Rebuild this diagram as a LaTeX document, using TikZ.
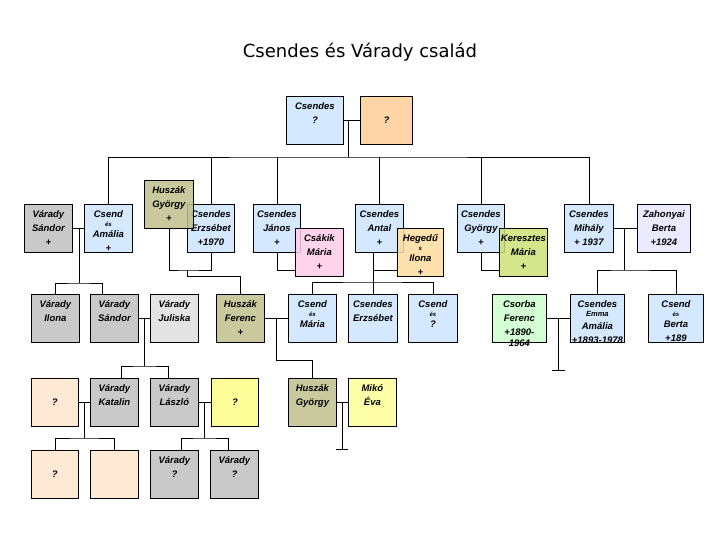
\documentclass[tikz,border=0pt]{standalone}
\usepackage{fontspec}
\setmainfont{Liberation Sans}
\newfontfamily\titlefont{DejaVu Sans}
\usepackage{tikz}
\usepackage{xcolor}
\usetikzlibrary{calc}

\definecolor{kek}{RGB}{204,228,255}
\definecolor{narancs}{RGB}{255,204,150}
\definecolor{szurke}{RGB}{192,192,192}
\definecolor{vszurke}{RGB}{222,222,222}
\definecolor{oliva}{RGB}{192,192,140}
\definecolor{rozsa}{RGB}{255,204,232}
\definecolor{barack}{RGB}{255,220,160}
\definecolor{zoldes}{RGB}{204,224,120}
\definecolor{lila}{RGB}{230,230,255}
\definecolor{menta}{RGB}{204,255,204}
\definecolor{halvany}{RGB}{255,228,204}
\definecolor{sarga}{RGB}{255,255,136}
\definecolor{vsarga}{RGB}{255,255,153}

% box text: top aligned, lines 14pt apart
\newcommand{\nevtext}[2][48pt]{\parbox[c][48pt][t]{#1}{\centering\vspace*{3.5pt}\strut#2}}
\newcommand{\kis}{\fontsize{6}{6}\selectfont}
\newcommand{\kozep}{\fontsize{7.5}{8}\selectfont}

\begin{document}
\begin{tikzpicture}[x=1pt,y=-1pt,
  every node/.style={font=\fontsize{9.5}{14}\selectfont\bfseries\itshape},
  person/.style={draw,line width=0.8pt,inner sep=0pt,anchor=north west,
    fill opacity=0.85,text opacity=1},
  vonal/.style={line width=0.8pt}]
\useasboundingbox (0,0) rectangle (720,540);

\node[font=\titlefont\fontsize{18}{20}\selectfont] (cim) at (360,52) {Csendes és Várady család};

% top couple
\node[person,fill=kek] (csq) at (286,96) {\nevtext[57pt]{Csendes\\?}};
\node[person,fill=narancs] (q0) at (360,96) {\nevtext[52pt]{\\?}};

% second row
\node[person,fill=szurke] (vsandor) at (24,204) {\nevtext{Várady\\Sándor\\+}};
\node[person,fill=kek] (amalia) at (84,204) {\nevtext{Csend\\[-5pt]{\kis és}\\[-3pt]Amália\\+}};
\node[person,fill=kek] (erzsebet) at (187,204) {\nevtext[47pt]{Csendes\\Erzsébet\\+1970}};
\node[person,fill=oliva] (huszakgy) at (144,180) {\nevtext[49pt]{Huszák\\György\\+}};
\node[person,fill=kek] (janos) at (253,204) {\nevtext[47pt]{Csendes\\János\\+}};
\node[person,fill=rozsa] (csakik) at (295,228) {\nevtext{Csákik\\Mária\\+}};
\node[person,fill=kek] (antal) at (355,204) {\nevtext{Csendes\\Antal\\+}};
\node[person,fill=barack] (hegedus) at (397,228) {\nevtext[46pt]{Hegedű\\[-5pt]{\kis s}\\[-3pt]Ilona\\+}};
\node[person,fill=kek] (gyorgy) at (457,204) {\nevtext[47pt]{Csendes\\György\\+}};
\node[person,fill=zoldes] (keresztes) at (499,228) {\nevtext{Keresztes\\Mária\\+}};
\node[person,fill=kek] (mihaly) at (564,204) {\nevtext[49pt]{Csendes\\Mihály\\+ 1937}};
\node[person,fill=lila] (zahonyai) at (637,204) {\nevtext[53pt]{Zahonyai\\Berta\\+1924}};

% third row
\node[person,fill=szurke] (ilona) at (31,294) {\nevtext{Várady\\Ilona}};
\node[person,fill=szurke] (sandor2) at (90,294) {\nevtext{Várady\\Sándor}};
\node[person,fill=vszurke] (juliska) at (150,294) {\nevtext{Várady\\Juliska}};
\node[person,fill=oliva] (ferenc) at (216,294) {\nevtext{Huszák\\Ferenc\\+}};
\node[person,fill=kek] (maria) at (288,294) {\nevtext{Csend\\[-5pt]{\kis és}\\[-3pt]Mária}};
\node[person,fill=kek] (erzsebet2) at (348,294) {\nevtext[49pt]{Csendes\\Erzsébet}};
\node[person,fill=kek] (csendq) at (408,294) {\nevtext[49pt]{Csend\\[-5pt]{\kis és}\\[-3pt]?}};
\node[person,fill=menta] (csorba) at (492,294) {\nevtext[54pt]{Csorba\\Ferenc\\+1890-\\[-3pt]1964}};
\node[person,fill=kek] (emma) at (570,294) {\nevtext[54pt]{Csendes\\[-5pt]{\kozep Emma}\\[-1pt]Amália\\+1893-1978}};
\node[person,fill=kek] (berta) at (648,294) {\nevtext[55pt]{Csend\\[-5pt]{\kis és}\\[-3pt]Berta\\+189}};

% fourth row
\node[person,fill=halvany] (q1) at (31,378) {\nevtext[47pt]{\\?}};
\node[person,fill=szurke] (katalin) at (90,378) {\nevtext{Várady\\Katalin}};
\node[person,fill=szurke] (laszlo) at (150,378) {\nevtext{Várady\\László}};
\node[person,fill=sarga] (q2) at (211,378) {\nevtext[47pt]{\\?}};
\node[person,fill=oliva] (huszakgy2) at (288,378) {\nevtext{Huszák\\György}};
\node[person,fill=vsarga] (miko) at (348,378) {\nevtext{Mikó\\Éva}};

% fifth row
\node[person,fill=halvany] (q3) at (31,450) {\nevtext[47pt]{\\?}};
\node[person,fill=halvany] (ures) at (90,450) {\nevtext{}};
\node[person,fill=szurke] (vq1) at (150,450) {\nevtext{Várady\\?}};
\node[person,fill=szurke] (vq2) at (210,450) {\nevtext{Várady\\?}};

% connectors
\coordinate (gy0) at (348,157);
\draw[vonal] (csq.east) -- (q0.west);
\draw[vonal] (gy0 |- csq.east) -- (gy0);
\draw[vonal] (amalia.north) |- (gy0) -| (mihaly.north);
\foreach \n in {erzsebet,janos,antal,gyorgy}
  \draw[vonal] (\n.north) -- (\n.north |- gy0);

\coordinate (gy1) at (79,283);
\draw[vonal] (vsandor.east) -- (amalia.west);
\draw[vonal] (gy1 |- vsandor.east) -- (gy1);
\draw[vonal] (ilona.north) |- (gy1) -| ([xshift=-12pt]sandor2.north);

\coordinate (hp) at (187,270);
\draw[vonal] (huszakgy.south) |- (hp) -| (erzsebet.south);
\draw[vonal] (hp) -- ++(0,6) -| (ferenc.north);
\draw[vonal] (janos.south) |- (csakik.west |- hp);

\coordinate (gy3) at (372,282);
\draw[vonal] (erzsebet2.north) -- (erzsebet2.north |- antal.south);
\draw[vonal] (erzsebet2.north |- hp) -- (hegedus.west |- hp);
\draw[vonal] (maria.north) |- (gy3) -| (csendq.north);

\draw[vonal] (gyorgy.south) |- (keresztes.west |- hp);

\coordinate (gy4) at (624,270);
\draw[vonal] (mihaly.east) -- (zahonyai.west);
\draw[vonal] (gy4 |- mihaly.east) -- (gy4);
\draw[vonal] (emma.north) |- (gy4) -| (berta.north);

\coordinate (gy5) at (276,360);
\draw[vonal] (ferenc.east) -- (maria.west);
\draw[vonal] (gy5 |- ferenc.east) -- (gy5) -| (huszakgy2.north);

\coordinate (gy6) at (144,366);
\draw[vonal] (sandor2.east) -- (juliska.west);
\draw[vonal] (gy6 |- sandor2.east) -- (gy6);
\draw[vonal] ([xshift=7pt]katalin.north) |- (gy6) -| ([xshift=-6pt]laszlo.north);

\coordinate (gy7) at (558,370);
\draw[vonal] (csorba.east) -- (emma.west);
\draw[vonal] (gy7 |- csorba.east) -- (gy7);
\draw[vonal] ([xshift=-6.5pt]gy7) -- ([xshift=6.5pt]gy7);

\coordinate (gy8) at (84,438);
\draw[vonal] (q1.east) -- (katalin.west);
\draw[vonal] (gy8 |- q1.east) -- (gy8);
\draw[vonal] (q3.north) |- (gy8) -| (ures.north);

\coordinate (gy9) at (204,438);
\draw[vonal] (laszlo.east) -- (q2.west);
\draw[vonal] (gy9 |- laszlo.east) -- (gy9);
\draw[vonal] ([xshift=7pt]vq1.north) |- (gy9) -| ([xshift=-6pt]vq2.north);

\coordinate (gy10) at (342,449);
\draw[vonal] (huszakgy2.east) -- (miko.west);
\draw[vonal] (gy10 |- huszakgy2.east) -- (gy10);
\draw[vonal] ([xshift=-6pt]gy10) -- ([xshift=6pt]gy10);
\end{tikzpicture}
\end{document}
